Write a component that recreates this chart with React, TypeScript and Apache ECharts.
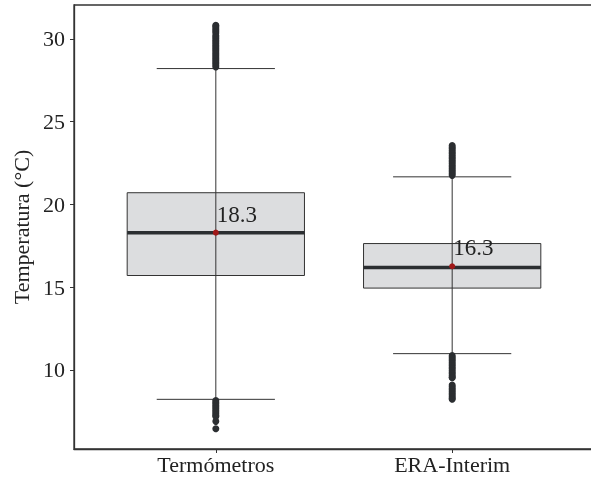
import React, { useEffect, useRef } from "react";
import * as echarts from "echarts";

const categories = ["Termómetros", "ERA-Interim"];
const lowerWhisker = [8.22, 10.98];
const q1 = [15.7, 14.94];
const median = [18.29, 16.19];
const q3 = [20.7, 17.63];
const upperWhisker = [28.2, 21.66];
const means = [18.29, 16.26];
const yTicks = [10, 15, 20, 25, 30];

const outliersTermometros = [
  28.3, 28.4, 28.5, 28.6, 28.7, 28.8, 28.9, 29.0, 29.1, 29.2, 29.3, 29.4, 29.5,
  29.6, 29.7, 29.8, 29.9, 30.0, 30.1, 30.2, 30.35, 30.45, 30.55, 30.65, 30.75,
  30.82, 8.15, 8.05, 7.95, 7.85, 7.75, 7.65, 7.55, 7.45, 7.35, 7.25, 7.19, 6.89,
  6.44,
];
const outliersEra = [
  21.75, 21.85, 21.95, 22.05, 22.15, 22.25, 22.35, 22.45, 22.55, 22.65, 22.75,
  22.85, 22.95, 23.05, 23.15, 23.25, 23.35, 23.45, 23.55, 10.86, 10.76, 10.66,
  10.56, 10.46, 10.36, 10.26, 10.16, 10.06, 9.96, 9.86, 9.76, 9.66, 9.56, 9.52,
  9.08, 8.98, 8.88, 8.78, 8.68, 8.58, 8.48, 8.38, 8.28, 8.22,
];

const FONT = "'Liberation Serif', 'Times New Roman', serif";
const DARK = "#2b2e31";

export default function App() {
  const ref = useRef<HTMLDivElement>(null);
  useEffect(() => {
    if (!ref.current) return;
    const chart = echarts.init(ref.current, null, { renderer: "svg" });
    const boxData = categories.map((_, i) => [
      i + 1,
      lowerWhisker[i],
      q1[i],
      median[i],
      q3[i],
      upperWhisker[i],
    ]);
    const outlierData: number[][] = [
      ...outliersTermometros.map((v) => [1, v]),
      ...outliersEra.map((v) => [2, v]),
    ];
    const meanData = means.map((m, i) => [i + 1, m]);

    chart.setOption({
      animation: false,
      grid: {
        left: 74,
        top: 5,
        width: 520,
        height: 444,
        outerBoundsMode: "none",
        containLabel: false,
        show: true,
        borderColor: "#333",
        borderWidth: 1.3,
        backgroundColor: "transparent",
      },
      xAxis: {
        type: "value",
        min: 0.4,
        max: 2.6,
        splitLine: { show: false },
        axisLine: { show: true, lineStyle: { color: "#333", width: 1.3 } },
        axisTick: {
          show: true,
          length: 4,
          customValues: [1, 2],
          lineStyle: { color: "#333" },
        },
        axisLabel: {
          customValues: [1, 2],
          formatter: (v: number) => categories[Math.round(v) - 1] ?? "",
          fontFamily: FONT,
          fontSize: 22,
          color: "#222",
          margin: 4,
        },
      },
      yAxis: {
        type: "value",
        min: 5.22,
        max: 32.04,
        name: "Temperatura (°C)",
        nameLocation: "middle",
        nameGap: 40,
        nameTextStyle: { fontFamily: FONT, fontSize: 22, color: "#222" },
        splitLine: { show: false },
        axisLine: { show: true, lineStyle: { color: "#333", width: 1.3 } },
        axisTick: {
          show: true,
          length: 4,
          customValues: yTicks,
          lineStyle: { color: "#333" },
        },
        axisLabel: {
          customValues: yTicks,
          fontFamily: FONT,
          fontSize: 22,
          color: "#222",
          margin: 9,
        },
      },
      series: [
        {
          type: "custom",
          data: boxData,
          encode: { x: 0, y: [1, 2, 3, 4, 5] },
          renderItem: (params: any, api: any) => {
            const x = api.value(0);
            const pLow = api.coord([x, api.value(1)]);
            const pQ1 = api.coord([x, api.value(2)]);
            const pMed = api.coord([x, api.value(3)]);
            const pQ3 = api.coord([x, api.value(4)]);
            const pHigh = api.coord([x, api.value(5)]);
            const unit = api.size([1, 0])[0];
            const bw = unit * 0.75;
            const ww = unit * 0.5;
            const cx = pMed[0];
            return {
              type: "group",
              children: [
                {
                  type: "rect",
                  shape: {
                    x: cx - bw / 2,
                    y: pQ3[1],
                    width: bw,
                    height: pQ1[1] - pQ3[1],
                  },
                  style: { fill: "#dcdddf", stroke: "#333", lineWidth: 1 },
                },
                {
                  type: "line",
                  shape: { x1: cx, y1: pLow[1], x2: cx, y2: pHigh[1] },
                  style: { stroke: "#333", lineWidth: 1 },
                },
                {
                  type: "line",
                  shape: {
                    x1: cx - ww / 2,
                    y1: pHigh[1],
                    x2: cx + ww / 2,
                    y2: pHigh[1],
                  },
                  style: { stroke: "#333", lineWidth: 1 },
                },
                {
                  type: "line",
                  shape: {
                    x1: cx - ww / 2,
                    y1: pLow[1],
                    x2: cx + ww / 2,
                    y2: pLow[1],
                  },
                  style: { stroke: "#333", lineWidth: 1 },
                },
                {
                  type: "line",
                  shape: {
                    x1: cx - bw / 2,
                    y1: pMed[1],
                    x2: cx + bw / 2,
                    y2: pMed[1],
                  },
                  style: { stroke: DARK, lineWidth: 3.5 },
                },
              ],
            };
          },
          z: 2,
        },
        {
          type: "scatter",
          data: outlierData,
          symbol: "circle",
          symbolSize: 7,
          itemStyle: { color: DARK, opacity: 1 },
          z: 3,
        },
        {
          type: "scatter",
          data: meanData,
          symbol: "circle",
          symbolSize: 6,
          itemStyle: { color: "#a01818", opacity: 1 },
          label: {
            show: true,
            position: "top",
            align: "left",
            distance: 4,
            offset: [1, 0],
            formatter: (p: any) => Number(p.value[1]).toFixed(1),
            fontFamily: FONT,
            fontSize: 23,
            color: "#222",
          },
          z: 4,
        },
      ],
    });
    return () => chart.dispose();
  }, []);
  return (
    <div
      ref={ref}
      style={{ position: "fixed", left: 0, top: 0, width: 591, height: 481 }}
    />
  );
}
